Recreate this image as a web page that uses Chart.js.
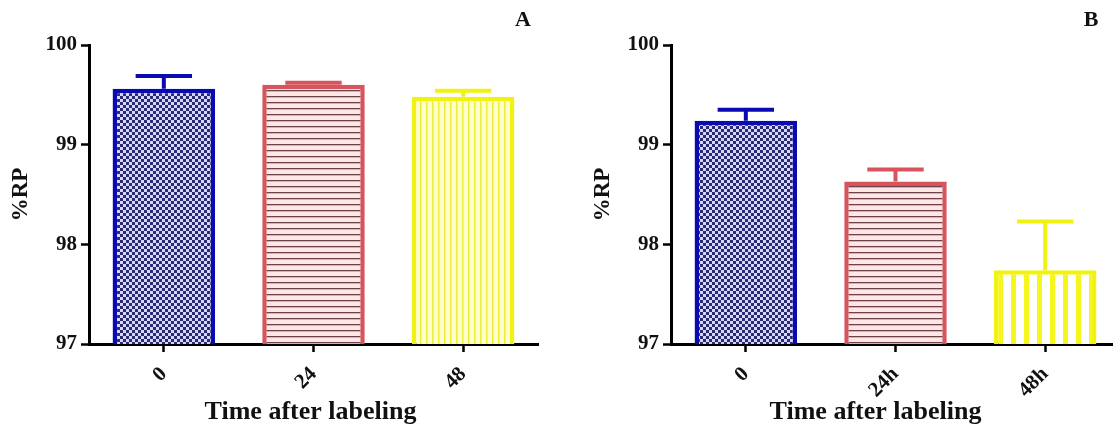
<!DOCTYPE html>
<html><head><meta charset="utf-8">
<script src="https://cdn.jsdelivr.net/npm/chart.js@4.4.1/dist/chart.umd.min.js"></script>
<style>
html,body{margin:0;padding:0;background:#fff;overflow:hidden;width:1113px;height:436px;position:relative;}
#wrapA{position:absolute;left:0;top:0;width:556px;height:436px;}
#wrapB{position:absolute;left:556px;top:0;width:570px;height:436px;}
canvas{display:block;}
</style></head><body>
<div id="wrapA"><canvas id="cA" width="556" height="436"></canvas></div>
<div id="wrapB"><canvas id="cB" width="570" height="436"></canvas></div>
<script>
// ---- data ----
const categoriesA = ['0', '24', '48'];
const valuesA = [99.56, 99.60, 99.48];
const errorsA = [0.13, 0.02, 0.06];
const categoriesB = ['0', '24h', '48h'];
const valuesB = [99.24, 98.63, 97.74];
const errorsB = [0.11, 0.12, 0.49];
const yMin = 97, yMax = 100, yStep = 1;
const axisTitleX = 'Time after labeling';
const axisTitleY = '%RP';

const FONT = '"Liberation Serif", "Times New Roman", serif';
const borderColors = ['#0a0ab2', '#d8545c', '#f2f212'];

function tile(w, h, draw) {
  const c = document.createElement('canvas');
  c.width = w; c.height = h;
  draw(c.getContext('2d'));
  return c;
}
const tileBlue = tile(6, 6, g => {
  g.fillStyle = '#d6d7f7'; g.fillRect(0, 0, 6, 6);
  g.fillStyle = '#2a2b72'; g.fillRect(0, 0, 3, 3); g.fillRect(3, 3, 3, 3);
});
const tileRed = tile(6, 6, g => {
  g.fillStyle = '#fde6e6'; g.fillRect(0, 0, 6, 6);
  g.fillStyle = '#6e4048'; g.fillRect(0, 0, 6, 1.3);
});
const tileYellowA = tile(6, 6, g => {
  g.fillStyle = '#ffffcc'; g.fillRect(0, 0, 6, 6);
  g.fillStyle = '#ecec3c'; g.fillRect(0, 0, 1.5, 6);
});
const tileYellowB = tile(13, 6, g => {
  g.fillStyle = '#ffffff'; g.fillRect(0, 0, 13, 6);
  g.fillStyle = '#f6f61c'; g.fillRect(0, 0, 5, 6);
});

const errorBarPlugin = {
  id: 'errorBars',
  afterDatasetsDraw(chart, args, opts) {
    const ctx = chart.ctx;
    const meta = chart.getDatasetMeta(0);
    const ys = chart.scales.y;
    ctx.save();
    meta.data.forEach((bar, i) => {
      const top = ys.getPixelForValue(opts.values[i] + opts.errors[i]);
      const cap = bar.width * 0.275;
      ctx.strokeStyle = borderColors[i];
      ctx.lineWidth = 4;
      ctx.beginPath();
      ctx.moveTo(bar.x, bar.y);
      ctx.lineTo(bar.x, top);
      ctx.moveTo(bar.x - cap, top);
      ctx.lineTo(bar.x + cap, top);
      ctx.stroke();
    });
    ctx.restore();
  }
};

const textPlugin = {
  id: 'panelText',
  afterDraw(chart, args, opts) {
    const ctx = chart.ctx;
    const ca = chart.chartArea;
    ctx.save();
    ctx.fillStyle = '#111';
    ctx.textAlign = 'center';
    ctx.textBaseline = 'middle';
    ctx.font = 'bold 22px ' + FONT;
    ctx.fillText(opts.letter, opts.letterX, 20);
    ctx.font = 'bold 26px ' + FONT;
    ctx.fillText(axisTitleX, (ca.left + ca.right) / 2 + opts.titleShift, 412);
    ctx.restore();
  }
};

function build(id, cats, vals, errs, yellow, pad, letter, letterX, titleShift) {
  const ctx = document.getElementById(id).getContext('2d');
  const bg = [ctx.createPattern(tileBlue, 'repeat'), ctx.createPattern(tileRed, 'repeat'), ctx.createPattern(yellow, 'repeat')];
  return new Chart(ctx, {
    type: 'bar',
    data: {
      labels: cats,
      datasets: [{
        data: vals,
        backgroundColor: bg,
        borderColor: borderColors,
        borderWidth: 4.5,
        borderSkipped: 'start',
        barPercentage: 0.685,
        categoryPercentage: 1
      }]
    },
    options: {
      responsive: false,
      animation: false,
      devicePixelRatio: 1,
      layout: { padding: pad },
      plugins: {
        legend: { display: false },
        tooltip: { enabled: false },
        errorBars: { values: vals, errors: errs },
        panelText: { letter: letter, letterX: letterX, titleShift: titleShift }
      },
      scales: {
        x: {
          z: 1,
          grid: { display: true, offset: false, drawOnChartArea: false, drawTicks: true, tickLength: 8, tickWidth: 2.5, tickColor: '#000', color: '#000' },
          border: { display: true, color: '#000', width: 3 },
          ticks: { color: '#111', maxRotation: 45, minRotation: 45, padding: 10, font: { family: FONT, size: 21, weight: 'bold' } },
          afterFit(s) { s.height = 92; }
        },
        y: {
          z: 1,
          min: yMin, max: yMax,
          grid: { display: true, drawOnChartArea: false, drawTicks: true, tickLength: 8, tickWidth: 2.5, tickColor: '#000', color: '#000' },
          border: { display: true, color: '#000', width: 3 },
          ticks: { stepSize: yStep, color: '#111', padding: 4, font: { family: FONT, size: 21, weight: 'bold' } },
          title: { display: true, text: axisTitleY, color: '#111', padding: { top: 7, bottom: 0 }, font: { family: FONT, size: 23, weight: 'bold' } },
          afterFit(s) { s.width = 89; }
        }
      }
    },
    plugins: [errorBarPlugin, textPlugin]
  });
}

build('cA', categoriesA, valuesA, errorsA, tileYellowA, { left: 0, right: 18, top: 45, bottom: 0 }, 'A', 523, -3);
build('cB', categoriesB, valuesB, errorsB, tileYellowB, { left: 26, right: 6, top: 45, bottom: 0 }, 'B', 535, -20);
</script>
</body></html>
